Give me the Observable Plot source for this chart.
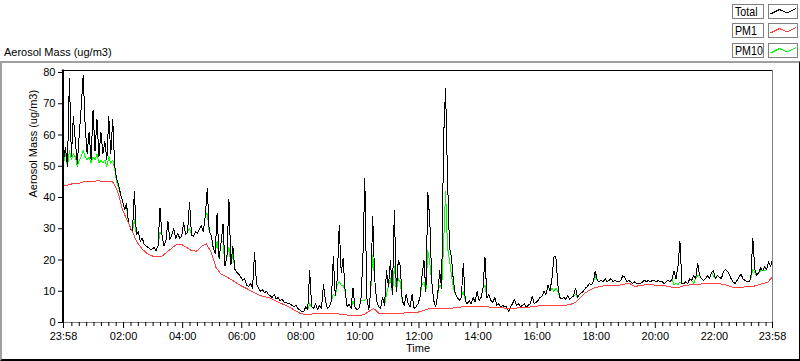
<!DOCTYPE html>
<html>
<head>
<meta charset="utf-8">
<script src="https://cdn.jsdelivr.net/npm/d3@7"></script>
<script src="https://cdn.jsdelivr.net/npm/@observablehq/plot@0.6"></script>
<style>
  html, body { margin: 0; padding: 0; background: #ffffff; }
  #wrap { position: relative; width: 800px; height: 361px; overflow: hidden; font-family: "Liberation Sans", Arial, sans-serif; }
  #chart { position: absolute; left: 0; top: 0; }
  #outer { position: absolute; left: 0; top: 61px; width: 800px; height: 300px; box-sizing: border-box;
           border-top: 2px solid #a0a0a0; border-left: 2px solid #a0a0a0; border-right: 1px solid #000; border-bottom: 2px solid #000; }
  #title { position: absolute; left: 4px; top: 46px; font-size: 11px; color: #000; white-space: nowrap; }
  .lgbox { position: absolute; height: 15px; box-sizing: border-box; border: 1px solid #808080; background: #fff; }
  .lgtext span { position: absolute; left: 2px; top: 0px; display: block; font-family: "Liberation Sans", Arial, sans-serif;
                 font-size: 13px; line-height: 13px; transform: scaleX(0.82); transform-origin: 0 0; color: #000; white-space: nowrap; }
</style>
</head>
<body>
<div id="wrap">
  <div id="outer"></div>
  <div id="chart"></div>
  <div id="title">Aerosol Mass (ug/m3)</div>
</div>
<script>
// ---- data (minutes from midnight; series start at 23:58 of previous day = -2) ----
const startMinute = -2;
const fineStep = 4;    // minutes between Total / PM10 samples
const pm1Step = 10;    // minutes between PM1 samples

const totalValues = [
  52,56,50,78,53,66,58,51,60,69,79,63,54,61,52,
  68,55,65,53,61,54,58,52,66,54,65,50,46,44,
  41,39,36,38,32,30,29,42,28,29,26,27,25,24.5,24,23.5,
  23.5,24,23,24.5,36.5,28,24.5,26,32.5,26.5,28,30,27,28.5,27,
  27.5,32,28,29,38.5,28,27.5,29,28.5,30,31,29,34,43,29,
  28,24,22,35,20.5,25.5,31.5,18,21,39.5,18.5,24.5,17,16,15.5,
  14.5,13.5,14,12,11.5,12.5,11,22.5,12.5,11,10,10.5,9.5,10,9,
  8.5,8,9,7.5,8,7,7.5,6.5,6.5,6,6,5.5,5,5.5,4.5,
  4,3.5,3.5,5,4,16.5,5,4.5,6,4,5.5,4.5,12,7,4.5,
  5,7,21,8.5,14,31,16,20.5,10,5,6,4.5,11,5,4,
  4.5,7,20,46,8,4,10,34,14,7,5,4.5,8,5.5,16.5,
  11.5,20,9,36,10,20,18,7,5.5,9,6,5,9,4.5,5,
  6,8,14.5,20,10,41.5,32.5,13,7,5,9,16.5,11,59,75,
  46,24,21,13,9,8,7,8,19,7,6,7,6,8,6.5,
  10,7,8,11,21,8,9,7,6.5,8,5.5,6,5,5.5,5,
  5,3.5,5,6,7.5,5.5,6,5,5.5,6,5,5.5,6,8.5,6,
  6.5,7,8,8.5,10,9,12,10,14,21,21,12,8,7.5,8,
  7.5,8.5,7.5,8,8.5,11,8,9,9.5,10,11,11.5,12.5,12,13,
  16.5,13.5,13,13.5,13,14,13,13.5,14,13,13.5,13,13,13.5,15,
  14.5,13,13.5,13,12.5,13,12.5,12.5,12.5,13,13.5,13,13.5,13,13.5,
  13.5,13,13.5,13,13,12.5,13,13.5,13,14,16.5,14,18,26,12.5,
  12.5,13,12.5,14,13.5,15,14,19,15,14,13.5,14,15,14,16,
  16.5,14,15,14.5,14,16,17,16.5,15.5,14,13,12.5,13.5,14.5,15.5,
  14,13.5,13,13,14,27,17,15,16,17.5,16.5,18,17,19.5,18,20
];

const pm10Values = [
  51,54,50,55,52,54,53,50,52,53,55,53,52,53,51,
  53,52,54,51,52,51,52,50,53,51,52,49,45,43,
  41,39,36,37,32,30,29,33,28,29,26,27,25,24.5,24,23.5,
  23.5,24,23,24.5,29,28,24.5,26,32.5,26.5,28,30,27,28.5,27,
  27.5,32,28,29,30,28,27.5,29,28.5,30,31,29,34,35,29,
  28,24,22,26,20.5,25.5,26,18,21,24,18.5,22,17,16,15.5,
  14.5,13.5,14,12,11.5,12.5,11,22.5,12.5,11,10,10.5,9.5,10,9,
  8.5,8,9,7.5,8,7,7.5,6.5,6.5,6,6,5.5,5,5.5,4.5,
  4,3.5,3.5,5,4,6,5,4.5,6,4,5.5,4.5,12,7,4.5,
  5,7,9,8.5,12,13,12,12,10,5,6,4.5,7,5,4,
  4.5,7,7,7,8,4,10,21.5,14,7,5,4.5,8,5.5,9,
  11.5,14,9,18,10,14,13,7,5.5,9,6,5,9,4.5,5,
  6,8,12,13,10,23,19,13,7,5,9,12,11,25,42,
  24,20,15,11,9,8,7,8,10,7,6,7,6,8,6.5,
  10,7,8,11,12,8,9,7,6.5,8,5.5,6,5,5.5,5,
  5,3.5,5,6,7.5,5.5,6,5,5.5,6,5,5.5,6,8.5,6,
  6.5,7,8,8.5,10,9,12,10,11,10,11,10,8,7.5,8,
  7.5,8.5,7.5,8,8.5,9,8,9,9.5,10,11,11.5,12.5,12,13,
  15,13.5,13,13.5,13,14,13,13.5,14,13,13.5,13,13,13.5,15,
  14.5,13,13.5,13,12.5,13,12.5,12.5,12.5,13,13.5,13,13.5,13,13.5,
  13.5,13,13.5,13,13,12.5,13,13.5,13,14,12,12.5,12,13,12.5,
  12.5,13,12.5,14,13.5,12.5,14,15,15,14,13.5,14,15,14,16,
  15,14,15,14.5,14,16,17,16.5,15.5,14,13,12.5,13.5,14.5,15.5,
  14,13.5,13,13,14,17,16,15,16,16.5,16.5,16.5,17,19.5,18,19.5
];

const pm1Values = [
  44,44,44.5,44.5,45,45,
  45,45.5,45,45,45,42,
  36,32.5,29,25.5,23.5,22,
  21.3,21,21.2,22.5,23.8,25,
  25,24,23,22.8,24.3,25.2,
  22.5,17.5,15.5,14.7,13.8,12.8,
  11.8,11,10.2,9.4,8.6,8.2,
  7.8,7,6.2,5.6,4.8,3.8,
  3,2.5,2.5,3,3,3,
  2.8,2.9,2.7,2.5,2.3,2.2,
  2.2,2.5,3.5,4.5,3,2.9,
  2.9,2.9,3,3,3.2,3.2,
  3.3,3.8,4.3,4.5,4.5,4.5,
  4.5,4.6,4.8,5,5.1,5.1,
  5.1,5,5,4.9,4.8,4.8,
  4.5,4.5,4.6,4.8,4.8,5,
  5.2,5.4,5.4,5.4,5.4,5.4,
  5.5,5.8,6.5,8,9.5,10.5,
  11.2,11.5,11.8,11.8,11.8,12,
  12.3,12.5,11.5,11.8,12,12.2,
  12,11.8,11.8,11.5,11.2,11.2,
  11.8,12,12.2,12.2,12.5,12.5,
  12.5,12.5,12.2,11.8,11.2,11.2,
  11.3,11.5,11.5,12,12.5,12.8,14.7
];

const seriesNames = ["Total", "PM1", "PM10"];
const seriesColors = ["#000000", "#ff4040", "#00ff00"];

const yTicks = [0, 10, 20, 30, 40, 50, 60, 70, 80];
const majorTicks = [-2, 120, 240, 360, 480, 600, 720, 840, 960, 1080, 1200, 1320, 1438];
const majorLabels = ["23:58", "02:00", "04:00", "06:00", "08:00", "10:00", "12:00",
                     "14:00", "16:00", "18:00", "20:00", "22:00", "23:58"];
const minorTicks = [];
for (let m = 15; m < 1438; m += 15) if (m % 120 !== 0) minorTicks.push(m);

const yLabel = "Aerosol Mass (ug/m3)";
const xLabel = "Time";

const rows = (vals, step) => vals.map((v, i) => ({t: startMinute + step * i, v}));
const totalRows = rows(totalValues, fineStep);
const pm10Rows = rows(pm10Values, fineStep);
const pm1Rows = rows(pm1Values, pm1Step);

const chart = Plot.plot({
  width: 800,
  height: 361,
  marginLeft: 63,
  marginRight: 28,
  marginTop: 72,
  marginBottom: 39,
  style: {fontFamily: "'Liberation Sans', Arial, sans-serif", fontSize: "11px", background: "transparent", color: "#000", overflow: "visible"},
  x: {domain: [-2, 1438], axis: null, label: null},
  y: {domain: [0, 80], axis: null, label: null},
  marks: [
    Plot.lineY(pm10Rows, {x: "t", y: "v", stroke: seriesColors[2], strokeWidth: 1, shapeRendering: "crispEdges"}),
    Plot.lineY(totalRows, {x: "t", y: "v", stroke: seriesColors[0], strokeWidth: 1, shapeRendering: "crispEdges"}),
    Plot.lineY(pm1Rows, {x: "t", y: "v", stroke: seriesColors[1], strokeWidth: 1, shapeRendering: "crispEdges"}),
    Plot.ruleY([0], {stroke: "#808080", strokeWidth: 1}),
    Plot.ruleX([1438], {stroke: "#808080", strokeWidth: 1, insetTop: -2}),
    Plot.ruleY([80], {stroke: "#000", strokeWidth: 1, dy: -2, insetLeft: -1.5}),
    Plot.ruleX([-2], {stroke: "#000", strokeWidth: 2, dx: -0.5, insetTop: -2.5}),
    Plot.axisY({ticks: yTicks, tickSize: 5, tickPadding: 3, tickFormat: d => String(d), label: null}),
    Plot.axisX({ticks: minorTicks, tickSize: 4, tickFormat: () => "", label: null}),
    Plot.axisX({ticks: majorTicks, tickSize: 6, tickPadding: 4, tickFormat: d => majorLabels[majorTicks.indexOf(d)], label: null}),
    Plot.text([yLabel], {text: d => d, frameAnchor: "left", rotate: -90, dx: -30}),
    Plot.text([xLabel], {text: d => d, frameAnchor: "bottom", dy: 29})
  ]
});
document.getElementById("chart").appendChild(chart);

// legend (top right)
const wrap = document.getElementById("wrap");
const rowTops = [4, 23, 43];
seriesNames.forEach((name, i) => {
  const lab = document.createElement("div");
  lab.className = "lgbox lgtext";
  lab.style.left = "732px"; lab.style.top = rowTops[i] + "px"; lab.style.width = "32px";
  const sp = document.createElement("span");
  sp.textContent = name;
  lab.appendChild(sp);
  wrap.appendChild(lab);
  const sw = document.createElement("div");
  sw.className = "lgbox";
  sw.style.left = "768px"; sw.style.top = rowTops[i] + "px"; sw.style.width = "30px";
  sw.innerHTML = `<svg width="28" height="13" style="position:absolute;left:0;top:0"><polyline points="1.5,9 10.5,4.5 18,8 27,3.5" fill="none" stroke="${seriesColors[i]}" stroke-width="1" shape-rendering="crispEdges"/></svg>`;
  wrap.appendChild(sw);
});
</script>
</body>
</html>
